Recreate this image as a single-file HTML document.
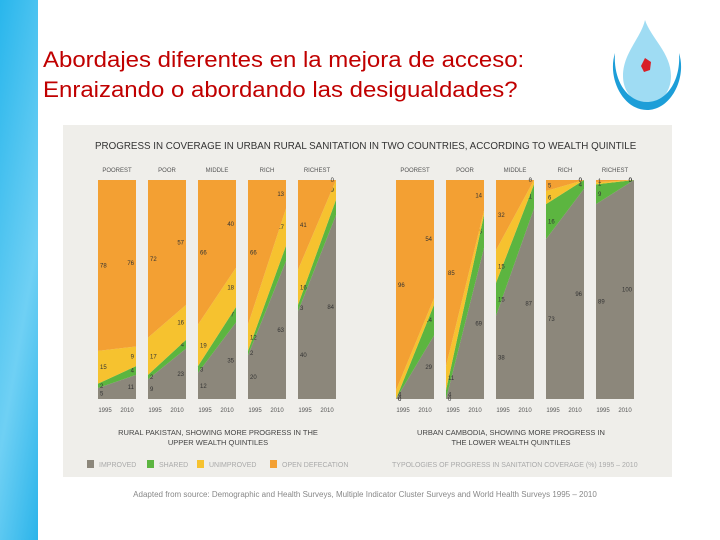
<!DOCTYPE html>
<html><head><meta charset="utf-8"><style>
body{margin:0;width:720px;height:540px;background:#fff;position:relative;overflow:hidden;font-family:"Liberation Sans",sans-serif}
.strip{position:absolute;left:0;top:0;width:38px;height:540px;background:linear-gradient(100deg,#29b6ec,#6fd0f4 60%,#2bb4ea)}
.title{position:absolute;left:43px;top:45px;color:#c00000;font-size:22px;line-height:30px;transform:scaleX(1.09);transform-origin:left top;white-space:nowrap}
</style></head><body>
<div class="strip"></div>
<div class="title">Abordajes diferentes en la mejora de acceso:<br>Enraizando o abordando las desigualdades?</div>
<svg style="position:absolute;left:605px;top:18px" width="85" height="95" viewBox="0 0 85 95">
<path d="M40 2 C36 20 18 35 18 58 C18 75 30 86 42 86 C55 86 66 75 66 58 C66 35 46 20 40 2Z" fill="#9fdcf3"/>
<path d="M10 35 C2 60 18 92 42 92 C66 92 82 60 74 35 C76 62 62 84 42 84 C22 84 8 62 10 35Z" fill="#1d9ed8"/>
<path d="M40 40 l6 4 -1 8 -6 2 -3 -6z" fill="#d81f26"/>
</svg>
<svg id="chart" width="720" height="540" style="position:absolute;left:0;top:0">
<rect x="63" y="125" width="609" height="352" fill="#efeeea"/>
<text x="95" y="149" font-size="9.8" fill="#333">PROGRESS IN COVERAGE IN URBAN RURAL SANITATION IN TWO COUNTRIES, ACCORDING TO WEALTH QUINTILE</text>
<g id="bars"></g>
<text x="218" y="435" font-size="7.5" fill="#444" text-anchor="middle">RURAL PAKISTAN, SHOWING MORE PROGRESS IN THE</text>
<text x="218" y="445" font-size="7.5" fill="#444" text-anchor="middle">UPPER WEALTH QUINTILES</text>
<text x="511" y="435" font-size="7.5" fill="#444" text-anchor="middle">URBAN CAMBODIA, SHOWING MORE PROGRESS IN</text>
<text x="511" y="445" font-size="7.5" fill="#444" text-anchor="middle">THE LOWER WEALTH QUINTILES</text>
<g font-size="7" fill="#aaa">
<rect x="87" y="460" width="7" height="8" fill="#8c877b"/><text x="99" y="467">IMPROVED</text>
<rect x="147" y="460" width="7" height="8" fill="#5cb540"/><text x="159" y="467">SHARED</text>
<rect x="197" y="460" width="7" height="8" fill="#f6c22f"/><text x="209" y="467">UNIMPROVED</text>
<rect x="270" y="460" width="7" height="8" fill="#f3a033"/><text x="282" y="467">OPEN DEFECATION</text>
<text x="392" y="467">TYPOLOGIES OF PROGRESS IN SANITATION COVERAGE (%) 1995 – 2010</text>
</g>
<text x="365" y="497" font-size="8" fill="#888" text-anchor="middle">Adapted from source: Demographic and Health Surveys, Multiple Indicator Cluster Surveys and World Health Surveys 1995 – 2010</text>
</svg>
<script>
const quintiles=["POOREST","POOR","MIDDLE","RICH","RICHEST"];
const years=["1995","2010"];
const pkImproved=[[5,11],[9,23],[12,35],[20,63],[40,84]];
const pkShared=[[2,4],[2,4],[3,7],[2,7],[3,7]];
const pkUnimproved=[[15,9],[17,16],[19,18],[12,17],[16,9]];
const pkOpen=[[78,76],[72,57],[66,40],[66,13],[41,0]];
const khImproved=[[0,29],[0,69],[38,87],[73,96],[89,100]];
const khShared=[[0,14],[4,15],[15,11],[16,4],[9,0]];
const khUnimproved=[[4,3],[11,2],[15,2],[6,0],[1,0]];
const khOpen=[[96,54],[85,14],[32,0],[5,0],[1,0]];
const colors=["#8c877b","#5cb540","#f6c22f","#f3a033"];
const names=["improved","shared","unimproved","open-defecation"];
const NS="http://www.w3.org/2000/svg";
const g=document.getElementById("bars");
const top0=180,bot0=399,bw=38,pitch=50;
function y(v,tot){return bot0-(v/tot)*(bot0-top0);}
function mk(t,a){const e=document.createElementNS(NS,t);for(const k in a)e.setAttribute(k,a[k]);g.appendChild(e);return e;}
function chart(x0,series,country){
 quintiles.forEach((q,i)=>{
  const x=x0+i*pitch;
  const tot=[0,1].map(j=>series.reduce((s,a)=>s+a[i][j],0));
  let c=[0,0];
  series.forEach((s,k)=>{
   const a=s[i];
   const n=[c[0]+a[0],c[1]+a[1]];
   const p=mk("polygon",{points:`${x},${y(c[0],tot[0])} ${x+bw},${y(c[1],tot[1])} ${x+bw},${y(n[1],tot[1])} ${x},${y(n[0],tot[0])}`,fill:colors[k]});
   
   
   [0,1].forEach(j=>{
    const t=mk("text",{x:j?x+bw-2:x+2,y:y((c[j]+n[j])/2,tot[j])+2,"font-size":"6","fill":"#333","text-anchor":j?"end":"start"});
    t.textContent=a[j];
    
    
   });
   c=n;
  });
  const h=mk("text",{x:x+bw/2,y:172,"font-size":"6","text-anchor":"middle",fill:"#555"});
  h.textContent=q;
  
  
  years.forEach((yr,j)=>{
   const t=mk("text",{x:x+(j?bw-9:7),y:412,"font-size":"6","text-anchor":"middle",fill:"#555"});
   t.textContent=yr;
   
   
  });
 });
}
chart(98,[pkImproved,pkShared,pkUnimproved,pkOpen],"pakistan");
chart(396,[khImproved,khShared,khUnimproved,khOpen],"cambodia");
</script>
</body></html>
